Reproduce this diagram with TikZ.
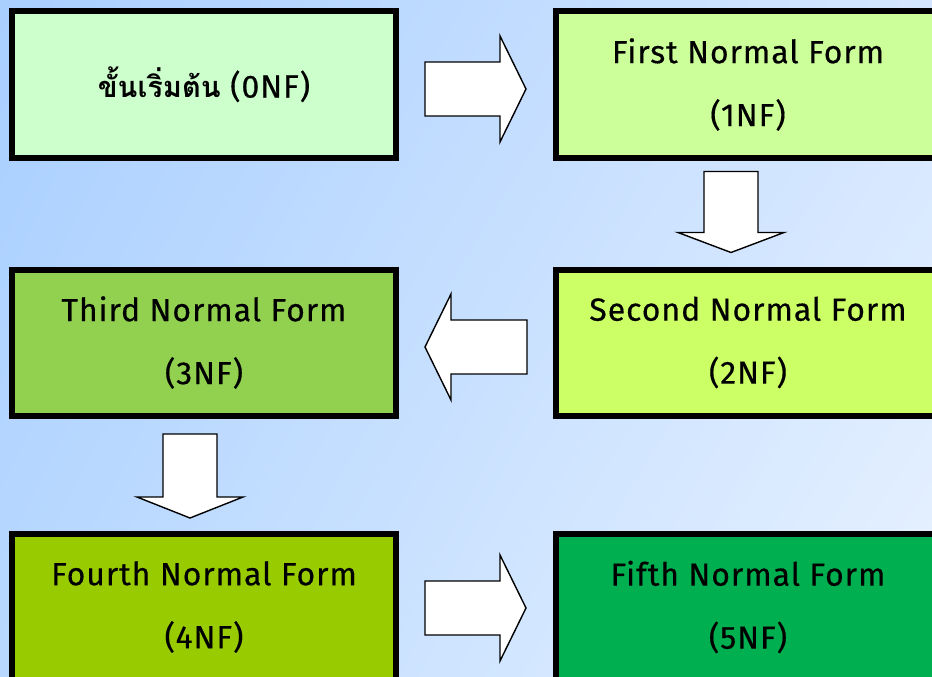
\documentclass[tikz,border=0pt]{standalone}
\usepackage{fontspec}
\setmainfont{Fira Sans}[FakeBold=0.4, LetterSpace=3]
\newfontfamily\thaifont[Script=Thai]{Loma}
\usetikzlibrary{calc,shadings}

\definecolor{bgUL}{HTML}{A9CFFF}
\definecolor{bgUR}{HTML}{D4E6FF}
\definecolor{bgLL}{HTML}{B8D8FF}
\definecolor{bgLR}{HTML}{E8F2FF}
\definecolor{nf0}{HTML}{CCFFCC}
\definecolor{nf1}{HTML}{CCFF99}
\definecolor{nf2}{HTML}{CCFF66}
\definecolor{nf3}{HTML}{92D050}
\definecolor{nf4}{HTML}{99CC00}
\definecolor{nf5}{HTML}{00B050}

\tikzset{
  formbox/.style={draw=black, line width=6pt, rectangle,
    minimum width=384pt, minimum height=146pt, inner sep=0pt,
    align=center, font=\fontsize{32}{63}\selectfont},
  arrowline/.style={draw=black, fill=white, line width=1.4pt, line join=miter},
  % block arrow pointing along +x with its tip at the origin
  pics/blockarrow/.style 2 args={
    code={\path[arrowline] (0,0) -- (-#2,53) -- (-#2,27) -- (-#1-#2,27)
      -- (-#1-#2,-27) -- (-#2,-27) -- (-#2,-53) -- cycle;}
  }
}

\begin{document}
\begin{tikzpicture}[x=1pt, y=-1pt]
\useasboundingbox (0,0) rectangle (932,677);
\clip (0,0) rectangle (932,677);
\shade[upper left=bgUL, upper right=bgUR, lower left=bgLL, lower right=bgLR]
  (0,0) rectangle (932,677);

\node[formbox, fill=nf0] (b0) at (204,84.5)
  {{\thaifont\bfseries\fontsize{29}{29}\selectfont ขั้นเริ่มต้น} (0NF)};
\node[formbox, fill=nf1] (b1) at (748,84.5)  {First Normal Form\\(1NF)};
\node[formbox, fill=nf2] (b2) at (748,342.5) {Second Normal Form\\(2NF)};
\node[formbox, fill=nf3] (b3) at (204,342.5) {Third Normal Form\\(3NF)};
\node[formbox, fill=nf4] (b4) at (204,607)   {Fourth Normal Form\\(4NF)};
\node[formbox, fill=nf5] (b5) at (748,607)   {Fifth Normal Form\\(5NF)};

\pic at ($(b1.west)+(-27,4.5)$)              {blockarrow={75}{26}};
\pic[rotate=-90] at ($(b2.north)+(-17,-14)$) {blockarrow={61}{20}};
\pic[rotate=180] at ($(b3.east)+(26,4.5)$)   {blockarrow={76}{26}};
\pic[rotate=-90] at ($(b4.north)+(-14,-13)$) {blockarrow={63}{21}};
\pic at ($(b5.west)+(-27,1)$)                {blockarrow={75}{26}};
\end{tikzpicture}
\end{document}
